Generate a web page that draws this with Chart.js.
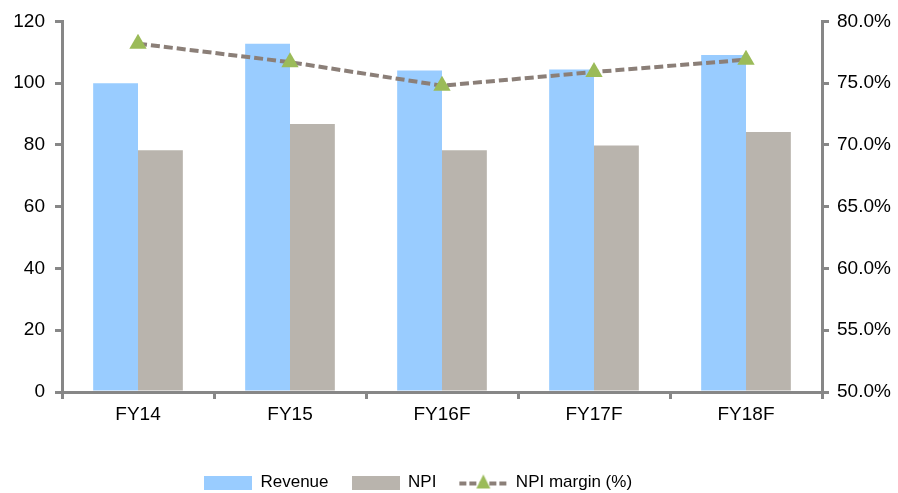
<!DOCTYPE html>
<html>
<head>
<meta charset="utf-8">
<script src="https://cdn.jsdelivr.net/npm/chart.js@4"></script>
<style>
  html, body { margin: 0; padding: 0; background: #fff; }
  #wrap { width: 898px; height: 493px; }
</style>
</head>
<body>
<div id="wrap"><canvas id="chart" width="898" height="493"></canvas></div>
<script>
// Revenue, NPI and NPI margin by financial year
const years = ['FY14', 'FY15', 'FY16F', 'FY17F', 'FY18F'];
const revenue = [100, 112.8, 104.1, 104.4, 109.1];
const npi = [78.3, 86.8, 78.3, 79.8, 84.2];
const npiMargin = [78.2, 76.7, 74.8, 75.9, 76.9];

const leftTicks = [0, 20, 40, 60, 80, 100, 120];
const rightTicks = [50, 55, 60, 65, 70, 75, 80];

const axisGrey = '#878787';
const revenueColor = '#99ccff';
const npiColor = '#b9b4ad';
const lineColor = '#8b7f78';
const markerColor = '#9bbb59';

// legend swatches drawn on small canvases
function swatchBox(color) {
    const c = document.createElement('canvas');
    c.width = 48; c.height = 14;
    const g = c.getContext('2d');
    g.fillStyle = color;
    g.fillRect(0, 0, 48, 14);
    return c;
}

function swatchLine() {
    const c = document.createElement('canvas');
    c.width = 50; c.height = 18;
    const g = c.getContext('2d');
    g.strokeStyle = lineColor;
    g.lineWidth = 4;
    g.setLineDash([7, 3]);
    g.beginPath();
    g.moveTo(1, 10);
    g.lineTo(49, 10);
    g.stroke();
    g.fillStyle = markerColor;
    g.beginPath();
    g.moveTo(25, 1);
    g.lineTo(32, 15);
    g.lineTo(18, 15);
    g.closePath();
    g.fill();
    return c;
}

const swatches = [swatchBox(revenueColor), swatchBox(npiColor), swatchLine()];

// nudge the legend a little left and down after layout
const legendNudge = {
    id: 'legendNudge',
    afterLayout(chart) {
        const lg = chart.legend;
        if (!lg) return;
        lg.left -= 31; lg.right -= 31;
        lg.top += 8; lg.bottom += 8;
    }
};

Chart.defaults.font.family = '"Liberation Sans", Arial, sans-serif';
Chart.defaults.font.size = 19;
Chart.defaults.color = '#000';

const axisGrid = {
    drawOnChartArea: false,
    drawTicks: true,
    tickLength: 7,
    color: axisGrey,
    lineWidth: 3
};

new Chart(document.getElementById('chart'), {
    data: {
        labels: years,
        datasets: [
            {
                type: 'line',
                label: 'NPI margin (%)',
                data: npiMargin,
                yAxisID: 'y2',
                borderColor: lineColor,
                borderWidth: 4,
                borderDash: [9, 4],
                pointStyle: 'triangle',
                pointRadius: 10,
                pointBackgroundColor: markerColor,
                pointBorderColor: markerColor,
                pointBorderWidth: 0,
                tension: 0,
                order: 0
            },
            {
                type: 'bar',
                label: 'Revenue',
                data: revenue,
                yAxisID: 'y',
                backgroundColor: revenueColor,
                categoryPercentage: 0.59,
                barPercentage: 1,
                order: 1
            },
            {
                type: 'bar',
                label: 'NPI',
                data: npi,
                yAxisID: 'y',
                backgroundColor: npiColor,
                categoryPercentage: 0.59,
                barPercentage: 1,
                order: 1
            }
        ]
    },
    plugins: [legendNudge],
    options: {
        responsive: false,
        animation: false,
        layout: { padding: { top: 14, bottom: 0, left: 0, right: 0 } },
        plugins: {
            tooltip: { enabled: false },
            legend: {
                position: 'bottom',
                labels: {
                    usePointStyle: true,
                    pointStyleWidth: 48,
                    padding: 23,
                    font: { size: 17 },
                    color: '#000',
                    generateLabels: chart => ['Revenue', 'NPI', 'NPI margin (%)'].map((text, i) => ({
                        text: text,
                        pointStyle: swatches[i],
                        datasetIndex: [1, 2, 0][i],
                        hidden: false,
                        lineWidth: 0
                    }))
                }
            }
        },
        scales: {
            x: {
                offset: true,
                grid: Object.assign({ offset: true }, axisGrid),
                border: { color: axisGrey, width: 3 },
                ticks: { padding: 4, color: '#000' },
                afterFit: s => { s.height = 51; }
            },
            y: {
                position: 'left',
                min: 0,
                max: 120,
                afterBuildTicks: s => { s.ticks = leftTicks.map(v => ({ value: v })); },
                grid: axisGrid,
                border: { color: axisGrey, width: 3 },
                ticks: { padding: 10, color: '#000' },
                afterFit: s => { s.width = 62; }
            },
            y2: {
                position: 'right',
                min: 50,
                max: 80,
                afterBuildTicks: s => { s.ticks = rightTicks.map(v => ({ value: v })); },
                grid: axisGrid,
                border: { color: axisGrey, width: 3 },
                ticks: {
                    padding: 8,
                    color: '#000',
                    callback: v => v.toFixed(1) + '%'
                },
                afterFit: s => { s.width = 76; }
            }
        }
    }
});
</script>
</body>
</html>
